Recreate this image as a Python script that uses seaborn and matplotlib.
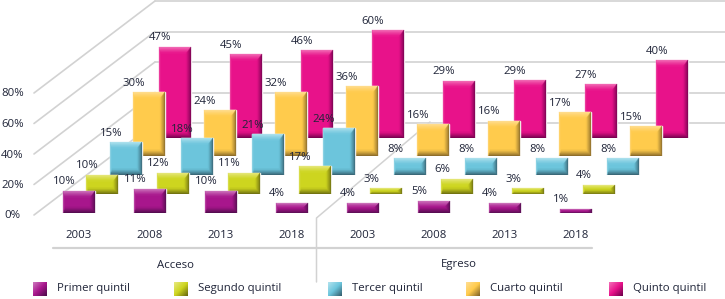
import numpy as np
import pandas as pd
import matplotlib
matplotlib.use("Agg")
import matplotlib.pyplot as plt
from matplotlib.colors import to_rgb
from matplotlib.patches import Polygon
import seaborn as sns

# Datos
grupos = ["Acceso"] * 4 + ["Egreso"] * 4
anios = ["2003", "2008", "2013", "2018", "2003", "2008", "2013", "2018"]
series = ["Primer quintil", "Segundo quintil", "Tercer quintil", "Cuarto quintil", "Quinto quintil"]

# valores rotulados
primer = [10, 11, 10, 4, 4, 5, 4, 1]
segundo = [10, 12, 11, 17, 3, 6, 3, 4]
tercer = [15, 18, 21, 24, 8, 8, 8, 8]
cuarto = [30, 24, 32, 36, 16, 16, 17, 15]
quinto = [47, 45, 46, 60, 29, 29, 27, 40]

# altura dibujada de cada barra: en el original no sigue exactamente al rotulo
alto_primer = [11, 12, 11, 5, 5, 6, 5, 2]
alto_segundo = [9.5, 10.5, 10.5, 14, 3, 7.5, 3, 4.5]
alto_tercer = [16.5, 18.5, 20.5, 23.5, 8.5, 8.5, 8.5, 8.5]
alto_cuarto = [32, 23, 32, 35, 16, 17.5, 22, 15]
alto_quinto = [45.5, 42, 44, 54, 28.5, 29, 27, 39]

ticks_pct = [0, 20, 40, 60, 80]

# Estilo: (claro, base, oscuro)
colores = [
    ("#CC74BC", "#A8168C", "#4E0C4C"),
    ("#E6E87C", "#CDD51F", "#6A6A10"),
    ("#B0E2EE", "#6CC5DC", "#35606F"),
    ("#FFDD90", "#FFCB4C", "#846628"),
    ("#F26CB6", "#E8128A", "#70004C"),
]
# Disposicion en pixeles
W, H = 725, 299
PASO = 71.0
ANCHO_BARRA = 32.0
PX_POR_UNIDAD = 2.0
izq_barra = [63, 86, 110, 133, 159]
base_y = [213, 194, 175, 156, 138]
GRIS = "#D2D2D2"
TEXTO = "#1F2438"
FUENTE = "Open Sans"
TAM = 8.2

sns.set_theme(style="white")
plt.rcParams["font.family"] = FUENTE


def mezcla(a, b, t):
    a, b = np.array(to_rgb(a)), np.array(to_rgb(b))
    return tuple(a + (b - a) * t)


def bisel(ax, barra, tonos):
    # relieve de la cara: bandas con degradado hacia cada borde
    claro, base, oscuro = tonos
    x0, x1 = barra.get_x(), barra.get_x() + barra.get_width()
    y1 = barra.get_height()
    alto_px = y1 * PX_POR_UNIDAD
    by = min(6.5, alto_px / 2) / PX_POR_UNIDAD
    bx = 5.0 / PASO
    bl = 2.0 / PASO
    n = 6
    for k in range(n):
        t0, t1 = k / n, (k + 1) / n
        tm = (k + 0.5) / n
        caras = [
            # arriba
            ([(x0 + bl * t0, y1 - by * t0), (x1 - bx * t0, y1 - by * t0),
              (x1 - bx * t1, y1 - by * t1), (x0 + bl * t1, y1 - by * t1)], mezcla(claro, base, tm)),
            # abajo
            ([(x0 + bl * t0, by * t0), (x1 - bx * t0, by * t0),
              (x1 - bx * t1, by * t1), (x0 + bl * t1, by * t1)], mezcla(oscuro, base, tm)),
            # derecha
            ([(x1 - bx * t0, by * t0), (x1 - bx * t0, y1 - by * t0),
              (x1 - bx * t1, y1 - by * t1), (x1 - bx * t1, by * t1)], mezcla(oscuro, base, tm)),
            # izquierda
            ([(x0 + bl * t0, by * t0), (x0 + bl * t0, y1 - by * t0),
              (x0 + bl * t1, y1 - by * t1), (x0 + bl * t1, by * t1)], mezcla(claro, base, 0.4 + 0.6 * tm)),
        ]
        for puntos, color in caras:
            ax.add_patch(Polygon(puntos, closed=True, facecolor=color, edgecolor=color, linewidth=0.2))


def lienzo(zorder):
    ax = fig.add_axes([0, 0, 1, 1], zorder=zorder)
    ax.set_xlim(0, W)
    ax.set_ylim(H, 0)
    ax.set_axis_off()
    return ax


fig = plt.figure(figsize=(W / 100, H / 100), dpi=100)
fondo = lienzo(0)
frente = lienzo(20)

# Paredes y rejilla
for pct in ticks_pct:
    y = 123 - pct * 1.525
    fondo.plot([155, W], [y, y], color=GRIS, lw=1.2)
    fondo.plot([34, 155], [y + 92, y], color=GRIS, lw=1.2)
    frente.text(12.5, y + 93, f"{pct}%", ha="center", va="center", fontsize=TAM, color=TEXTO)
fondo.plot([53, 592], [248, 248], color=GRIS, lw=1.6)
fondo.plot([316.5, 316.5, 430], [282, 218, 122], color=GRIS, lw=1.1)

# Barras: un eje por serie, desplazado para dar profundidad
valores = [primer, segundo, tercer, cuarto, quinto]
altos = [alto_primer, alto_segundo, alto_tercer, alto_cuarto, alto_quinto]
x_cat = [g + a for g, a in zip(grupos, anios)]
ejes = []
for i in reversed(range(len(series))):
    df = pd.DataFrame({"x": x_cat, "alto": altos[i], "valor": valores[i]})
    izq = izq_barra[i] + ANCHO_BARRA / 2 - PASO / 2
    ymax = 68
    ax = fig.add_axes([izq / W, (H - base_y[i]) / H, PASO * 8 / W, ymax * PX_POR_UNIDAD / H], zorder=10 - i)
    sns.barplot(data=df, x="x", y="alto", ax=ax, color=colores[i][1], saturation=1,
                width=ANCHO_BARRA / PASO, order=x_cat)
    ax.set_xlim(-0.5, 7.5)
    ax.set_ylim(0, ymax)
    ax.set(xlabel=None, ylabel=None, yticks=[])
    ax.patch.set_visible(False)
    sns.despine(ax=ax, left=True, bottom=True)
    barras = list(ax.patches)
    for barra, val in zip(barras, valores[i]):
        bisel(ax, barra, colores[i])
        frente.annotate(f"{val}%", xy=(barra.get_x(), barra.get_height()), xycoords=ax.transData,
                        xytext=(1, 9), textcoords="offset pixels", ha="center", va="center",
                        fontsize=TAM, color=TEXTO)
    if i == 0:
        ax.set_xticks(range(len(anios)), anios, fontsize=TAM, color=TEXTO)
        ax.tick_params(axis="x", length=0, pad=12)
    else:
        ax.set_xticks([])
    ejes.append(ax)

# Grupos
frente.text(176, 265, "Acceso", ha="center", va="center", fontsize=TAM, color=TEXTO)
frente.text(459, 265, "Egreso", ha="center", va="center", fontsize=TAM, color=TEXTO)

# Leyenda
leyenda_x = [33, 174, 328, 466, 609]
for nombre, x, tonos in zip(series, leyenda_x, colores):
    u, v = np.meshgrid(np.linspace(0, 1, 14), np.linspace(0, 1, 14))
    t = (u + v) / 2
    claro, base, oscuro = [np.array(to_rgb(c)) for c in tonos]
    t = t[..., None]
    img = np.where(t < 0.5, claro + (base - claro) * t * 2, base + (oscuro - base) * (t - 0.5) * 2)
    frente.imshow(img, extent=(x, x + 14, 296, 282), aspect="auto", interpolation="bilinear", zorder=3)
    frente.text(x + 24, 289, nombre, ha="left", va="center", fontsize=TAM, color=TEXTO)
frente.set_xlim(0, W)
frente.set_ylim(H, 0)

fig.savefig("out.png", dpi=100)
